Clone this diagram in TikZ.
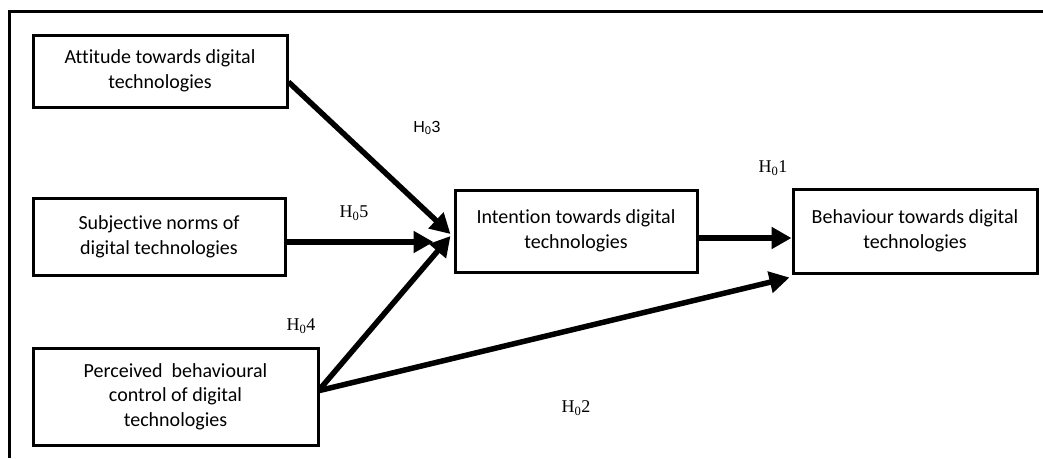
\documentclass[tikz,border=0pt]{standalone}
\usepackage{fontspec}
\setmainfont{Carlito}[Ligatures={NoCommon}]
\newfontfamily\labserif{Liberation Serif}
\newfontfamily\labsans{Liberation Sans}
\usetikzlibrary{arrows.meta}
\begin{document}
\begin{tikzpicture}[x=1pt,y=-1pt,
  box/.style={draw, line width=3pt, align=center, inner sep=0pt,
    font=\fontsize{20}{24.5}\selectfont},
  conn/.style={line width=5.5pt, -{Triangle[length=20pt,width=21pt]}},
  hlab/.style={font=\labserif\fontsize{18}{20}\selectfont},
  hlabs/.style={font=\labsans\fontsize{16}{20}\selectfont}]
\useasboundingbox (0,0) rectangle (1043,458);
\draw[line width=3pt] (1043,11) -- (9,11) -- (9,458);

\node[box, minimum width=254pt, minimum height=72pt] (A) at (160,71)
  {Attitude towards digital\\technologies};
\node[box, minimum width=252pt, minimum height=77pt] (S) at (159,237)
  {Subjective norms of\\digital technologies};
\node[box, minimum width=285pt, minimum height=97pt] (P) at (175.5,396.5)
  {Perceived\ \ behavioural\\control of digital\\technologies};
\node[box, minimum width=242pt, minimum height=82pt] (I) at (576,231)
  {Intention towards digital\\technologies};
\node[box, minimum width=244pt, minimum height=84pt] (B) at (915,231)
  {Behaviour towards digital\\technologies};

\draw[conn] ([yshift=-11pt]A.east) -- ([shift={(-3pt,-3pt)}]I.west);
\draw[conn] ([yshift=-5pt]S.east) -- ([shift={(-20pt,-11pt)}]I.west);
\draw[conn] ([yshift=7pt]P.east) -- ([shift={(-3pt,-5pt)}]I.west);
\draw[conn] ([yshift=6pt]P.east) -- ([shift={(-2pt,-3pt)}]B.south west);
\draw[conn] ([yshift=-7pt]I.east) -- ([yshift=-7pt]B.west);

\node[hlabs] (h3) at (427,128) {H\textsubscript{0}3};
\node[hlab] (h5) at (354,213) {H\textsubscript{0}5};
\node[hlab] (h1) at (773,168) {H\textsubscript{0}1};
\node[hlab] (h4) at (301,326) {H\textsubscript{0}4};
\node[hlab] (h2) at (576,408) {H\textsubscript{0}2};
\end{tikzpicture}
\end{document}
